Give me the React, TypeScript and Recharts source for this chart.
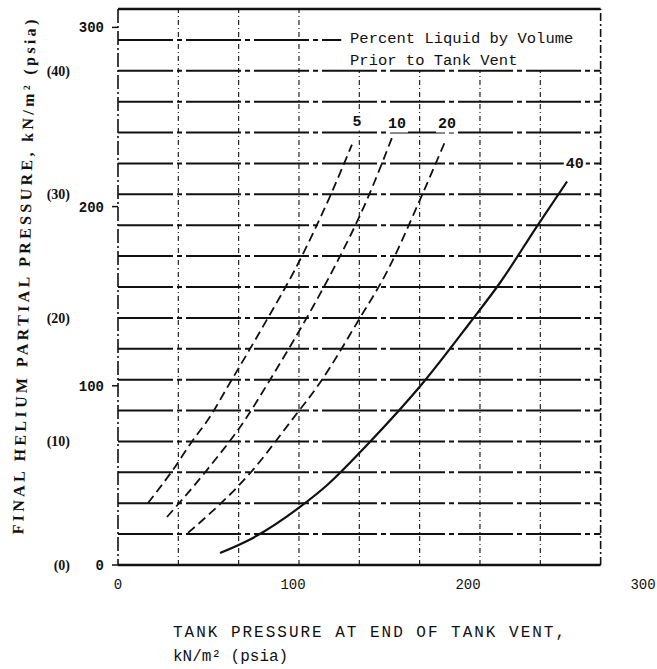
import { LineChart, Line, XAxis, YAxis, ReferenceLine, ReferenceDot } from "recharts";

// kN/m² per psi, used to line the psia axes up with the kN/m² axes
const KN_PER_PSI = 6.89476;

// curves: tank pressure (kN/m²) vs final helium partial pressure (kN/m²)
const curve5X = [17.1, 31.4, 42.9, 51.4, 64.0, 85.1, 101.1, 121.1, 133.7];
const curve5Y = [34.6, 53.1, 69.8, 81.0, 101.7, 136.9, 164.8, 205.6, 234.6];

const curve10X = [28.0, 50.9, 72.6, 86.9, 111.4, 122.9, 142.3, 156.6];
const curve10Y = [26.8, 53.1, 81.0, 103.4, 144.1, 164.8, 203.9, 238.5];

const curve20X = [40.0, 77.1, 99.4, 115.4, 136.6, 154.3, 172.6, 186.9];
const curve20Y = [17.9, 53.1, 81.0, 101.7, 135.2, 164.8, 203.9, 236.3];

const curve40X = [58.3, 77.1, 104.0, 119.4, 142.3, 174.3, 201.1, 218.3, 239.4, 256.6];
const curve40Y = [6.7, 15.1, 32.4, 44.5, 67.0, 101.7, 135.2, 157.5, 189.0, 214.0];

// curve labels (percent liquid) and where they sit
const curveLabels = ["5", "10", "20", "40"];
const curveLabelX = [136.6, 159.4, 188.0, 261.0];
const curveLabelY = [246.9, 245.8, 245.8, 223.5];

// ticks
const xTicksKn = [0, 100, 200, 300];
const xTicksPsi = [0, 10, 20, 30, 40];
const yTicksKn = [0, 100, 200, 300];
const yTicksPsi = [0, 10, 20, 30, 40];

// grid (psia)
const hGridPsi = [2.5, 5, 7.5, 10, 12.5, 15, 17.5, 20, 22.5, 25, 27.5, 30, 32.5, 35, 37.5, 40];
const vGridPsi = [5, 10, 15, 20, 25, 30, 35];

const toPoints = (xs: number[], ys: number[]) => xs.map((x, i) => ({ x, y: ys[i] }));
const kn = (psi: number) => psi * KN_PER_PSI;

const MONO = "'Liberation Mono', 'DejaVu Sans Mono', monospace";
const SERIF = "'Liberation Serif', 'DejaVu Serif', serif";
const INK = "#111";

const curves = [
  { key: "c5", data: toPoints(curve5X, curve5Y), dash: "9 5", width: 1.8 },
  { key: "c10", data: toPoints(curve10X, curve10Y), dash: "9 5", width: 1.8 },
  { key: "c20", data: toPoints(curve20X, curve20Y), dash: "9 5", width: 1.8 },
  { key: "c40", data: toPoints(curve40X, curve40Y), dash: undefined, width: 2.2 },
];

const yTitle = (props: any) => {
  const vb = props.viewBox;
  const cx = vb.x + 24;
  const cy = vb.y + vb.height / 2 - 10;
  return (
    <text
      x={cx}
      y={cy}
      transform={`rotate(-88.6 ${cx} ${cy})`}
      textAnchor="middle"
      dominantBaseline="central"
      fontFamily={SERIF}
      fontWeight="bold"
      fontSize={16}
      fill={INK}
      textLength={515}
      lengthAdjust="spacing"
    >
      FINAL HELIUM PARTIAL PRESSURE, kN/m² (psia)
    </text>
  );
};

const xTitle = (props: any) => {
  const vb = props.viewBox;
  return (
    <g fontFamily={MONO} fontSize={16} fill={INK}>
      <text x={vb.x + 55} y={vb.y + 38} dominantBaseline="central" textLength={392} lengthAdjust="spacing">
        TANK PRESSURE AT END OF TANK VENT,
      </text>
      <text x={vb.x + 55} y={vb.y + 62} dominantBaseline="central">
        kN/m² (psia)
      </text>
    </g>
  );
};

const legendLabel = (text: string) => (props: any) => {
  const vb = props.viewBox;
  return (
    <text x={vb.x} y={vb.y} dominantBaseline="central" fontFamily={MONO} fontSize={15.5} fill={INK}>
      {text}
    </text>
  );
};

const curveLabel = (text: string) => (props: any) => {
  const vb = props.viewBox;
  const w = text.length * 9 + 4;
  return (
    <g>
      <rect x={vb.x - w / 2} y={vb.y - 8} width={w} height={16} fill="#fff" />
      <text
        x={vb.x}
        y={vb.y}
        textAnchor="middle"
        dominantBaseline="central"
        fontFamily={MONO}
        fontSize={15}
        fontWeight="bold"
        fill={INK}
      >
        {text}
      </text>
    </g>
  );
};

const seg = (x1: number, y1: number, x2: number, y2: number) => [
  { x: kn(x1), y: kn(y1) },
  { x: kn(x2), y: kn(y2) },
];

export default function App() {
  return (
    <div style={{ position: "absolute", left: 0, top: 0, background: "#fff" }}>
      <LineChart width={657} height={669} margin={{ top: 9, right: 14, bottom: 44, left: 0 }}>
        <XAxis
          xAxisId="kn"
          type="number"
          dataKey="x"
          domain={[0, 300]}
          ticks={xTicksKn}
          axisLine={false}
          tickLine={false}
          tickSize={0}
          tickMargin={14}
          height={30}
          allowDataOverflow
          tick={{ fontFamily: MONO, fontSize: 14, fill: INK }}
        />
        <XAxis
          xAxisId="psi"
          type="number"
          domain={[0, 300 / KN_PER_PSI]}
          ticks={xTicksPsi}
          tickFormatter={(v: number) => `(${v})`}
          axisLine={false}
          tickLine={false}
          tickSize={0}
          tickMargin={11}
          height={30}
          allowDataOverflow
          tick={{ fontFamily: SERIF, fontSize: 14, fill: INK }}
          label={xTitle}
        />
        <YAxis
          yAxisId="kn"
          type="number"
          domain={[0, kn(45)]}
          ticks={yTicksKn}
          width={38}
          allowDataOverflow
          axisLine={{ stroke: INK, strokeWidth: 1.6, strokeDasharray: "14 3 2 3" }}
          tickLine={{ stroke: INK, strokeWidth: 1.5 }}
          tickSize={6}
          tickMargin={8}
          tick={{ fontFamily: MONO, fontSize: 14, fontWeight: "bold", fill: INK }}
        />
        <YAxis
          yAxisId="psi"
          type="number"
          domain={[0, 45]}
          ticks={yTicksPsi}
          width={80}
          allowDataOverflow
          tickFormatter={(v: number) => `(${v})`}
          axisLine={false}
          tickLine={false}
          tickSize={0}
          tickMargin={10}
          tick={{ fontFamily: SERIF, fontSize: 14, fontWeight: "bold", fill: INK }}
          label={yTitle}
        />

        {/* vertical grid, every 5 psia; stops under the legend box */}
        {vGridPsi.map((v) => (
          <ReferenceLine
            key={`v${v}`}
            xAxisId="kn"
            yAxisId="kn"
            segment={seg(v, 0, v, v >= 20 ? 40 : 45)}
            stroke={INK}
            strokeWidth={1.1}
            strokeDasharray="5 3 1 3"
          />
        ))}
        {/* horizontal grid, every 2.5 psia */}
        {hGridPsi.map((v) => (
          <ReferenceLine
            key={`h${v}`}
            xAxisId="kn"
            yAxisId="kn"
            segment={seg(0, v, 40, v)}
            stroke={INK}
            strokeWidth={2}
            strokeDasharray="55 4 5 4"
          />
        ))}
        <ReferenceLine
          xAxisId="kn"
          yAxisId="kn"
          segment={seg(0, 42.5, 18.5, 42.5)}
          stroke={INK}
          strokeWidth={2}
          strokeDasharray="55 4 5 4"
        />
        {/* frame */}
        <ReferenceLine xAxisId="kn" yAxisId="kn" segment={seg(0, 45, 40, 45)} stroke={INK} strokeWidth={2.4} />
        <ReferenceLine
          xAxisId="kn"
          yAxisId="kn"
          segment={seg(40, 0, 40, 45)}
          stroke={INK}
          strokeWidth={1.6}
          strokeDasharray="8 3 2 3"
        />
        <ReferenceLine xAxisId="kn" yAxisId="kn" segment={seg(0, 0, 40, 0)} stroke={INK} strokeWidth={2.6} />

        {curves.map((c) => (
          <Line
            key={c.key}
            xAxisId="kn"
            yAxisId="kn"
            data={c.data}
            dataKey="y"
            type="monotone"
            stroke={INK}
            strokeWidth={c.width}
            strokeDasharray={c.dash}
            dot={false}
            activeDot={false}
            isAnimationActive={false}
          />
        ))}

        {curveLabels.map((t, i) => (
          <ReferenceDot
            key={`l${t}`}
            xAxisId="kn"
            yAxisId="kn"
            x={curveLabelX[i]}
            y={curveLabelY[i]}
            r={0}
            fill="none"
            stroke="none"
            label={curveLabel(t)}
          />
        ))}

        <ReferenceDot
          xAxisId="kn"
          yAxisId="kn"
          x={132.6}
          y={293.5}
          r={0}
          fill="none"
          stroke="none"
          label={legendLabel("Percent Liquid by Volume")}
        />
        <ReferenceDot
          xAxisId="kn"
          yAxisId="kn"
          x={132.6}
          y={281.3}
          r={0}
          fill="none"
          stroke="none"
          label={legendLabel("Prior to Tank Vent")}
        />
      </LineChart>
    </div>
  );
}
